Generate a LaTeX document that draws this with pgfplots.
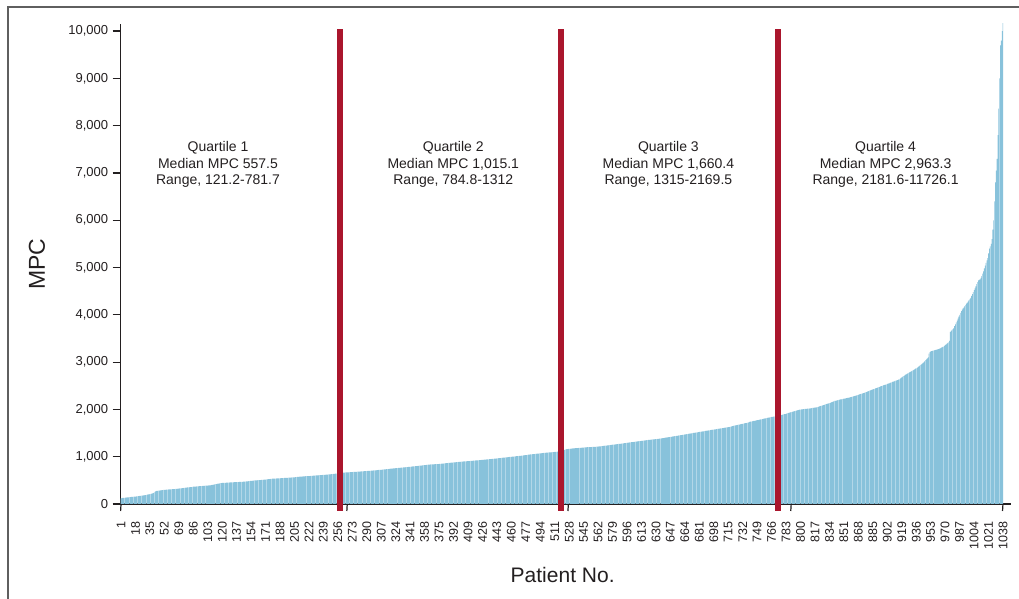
\documentclass[border=0pt]{standalone}
\usepackage{pgfplots}
\pgfplotsset{compat=1.18}
\usepackage{pgfplotstable}
\usepackage{fontspec}
\setmainfont{Liberation Sans}
\definecolor{barblue}{RGB}{136,194,219}
\definecolor{qred}{RGB}{170,22,45}
\definecolor{txt}{RGB}{35,31,32}
\definecolor{framec}{RGB}{95,95,95}

\pgfplotstableread[row sep=\\]{
mpc\\
121\\124\\127\\129\\131\\133\\136\\138\\140\\142\\
145\\147\\149\\151\\153\\155\\156\\158\\159\\161\\
164\\167\\170\\173\\176\\179\\182\\185\\187\\190\\
194\\198\\202\\206\\210\\214\\219\\224\\232\\248\\
262\\272\\276\\279\\282\\285\\287\\289\\292\\295\\
297\\299\\301\\302\\304\\305\\307\\308\\310\\311\\
312\\314\\315\\317\\318\\320\\322\\324\\326\\328\\
330\\332\\334\\337\\339\\342\\344\\347\\349\\351\\
353\\355\\357\\359\\362\\365\\366\\368\\370\\371\\
373\\374\\376\\377\\379\\380\\382\\383\\385\\386\\
388\\389\\391\\392\\394\\396\\399\\402\\406\\410\\
414\\418\\422\\426\\430\\433\\436\\439\\442\\445\\
446\\447\\448\\449\\450\\452\\453\\454\\455\\456\\
457\\458\\459\\460\\461\\462\\463\\464\\465\\466\\
467\\468\\469\\470\\471\\473\\475\\477\\479\\481\\
483\\485\\487\\489\\491\\493\\495\\497\\499\\501\\
502\\503\\504\\505\\506\\508\\510\\512\\514\\516\\
518\\520\\522\\524\\526\\528\\530\\532\\534\\536\\
537\\538\\539\\540\\541\\542\\543\\544\\545\\546\\
548\\549\\550\\551\\552\\554\\555\\556\\557\\559\\
560\\561\\562\\563\\565\\567\\569\\571\\573\\575\\
577\\578\\580\\581\\583\\584\\585\\587\\588\\589\\
590\\591\\592\\594\\595\\597\\598\\600\\601\\603\\
604\\606\\607\\608\\609\\611\\612\\614\\615\\617\\
618\\619\\620\\622\\624\\626\\628\\630\\632\\634\\
636\\638\\640\\642\\644\\646\\648\\650\\652\\655\\
662\\664\\665\\666\\667\\668\\669\\670\\671\\672\\
673\\674\\675\\677\\678\\679\\680\\681\\683\\684\\
685\\687\\688\\689\\690\\692\\693\\694\\696\\697\\
698\\700\\701\\703\\704\\706\\707\\709\\710\\712\\
713\\715\\717\\719\\720\\722\\724\\726\\728\\730\\
732\\734\\736\\738\\740\\742\\744\\746\\748\\750\\
752\\754\\755\\757\\759\\761\\762\\764\\766\\768\\
769\\771\\773\\775\\776\\778\\780\\781\\783\\785\\
787\\789\\791\\793\\795\\797\\799\\801\\803\\806\\
808\\810\\812\\814\\816\\818\\820\\822\\824\\827\\
829\\831\\833\\835\\836\\837\\838\\839\\840\\841\\
842\\843\\844\\845\\846\\848\\850\\852\\854\\856\\
858\\860\\862\\864\\866\\867\\869\\871\\873\\875\\
877\\879\\880\\882\\884\\886\\887\\889\\891\\893\\
894\\896\\897\\899\\900\\902\\903\\905\\906\\908\\
909\\911\\912\\914\\915\\917\\919\\920\\922\\924\\
925\\927\\929\\930\\932\\934\\935\\937\\939\\940\\
942\\944\\945\\947\\949\\950\\952\\954\\956\\958\\
960\\962\\964\\966\\968\\970\\972\\974\\976\\978\\
980\\982\\984\\986\\988\\990\\992\\994\\996\\998\\
1000\\1002\\1004\\1006\\1008\\1010\\1012\\1014\\1016\\1018\\
1020\\1022\\1024\\1026\\1028\\1031\\1033\\1036\\1039\\1042\\
1045\\1047\\1049\\1051\\1053\\1055\\1057\\1059\\1061\\1063\\
1065\\1067\\1069\\1071\\1073\\1075\\1077\\1079\\1081\\1083\\
1085\\1086\\1088\\1089\\1091\\1092\\1094\\1095\\1097\\1098\\
1100\\1102\\1104\\1106\\1108\\1110\\1113\\1116\\1120\\1125\\
1132\\1140\\1148\\1155\\1160\\1162\\1164\\1166\\1168\\1170\\
1172\\1174\\1176\\1177\\1179\\1180\\1182\\1183\\1185\\1186\\
1188\\1189\\1191\\1192\\1194\\1195\\1197\\1198\\1200\\1201\\
1202\\1203\\1204\\1205\\1206\\1207\\1208\\1209\\1210\\1211\\
1213\\1215\\1217\\1219\\1221\\1224\\1226\\1228\\1230\\1232\\
1234\\1236\\1239\\1241\\1243\\1246\\1248\\1250\\1253\\1255\\
1257\\1259\\1262\\1264\\1267\\1269\\1271\\1274\\1276\\1279\\
1281\\1284\\1286\\1289\\1291\\1294\\1297\\1300\\1303\\1305\\
1307\\1309\\1311\\1313\\1316\\1318\\1320\\1323\\1325\\1327\\
1330\\1332\\1335\\1337\\1340\\1342\\1345\\1347\\1350\\1352\\
1354\\1356\\1358\\1360\\1362\\1364\\1366\\1368\\1370\\1372\\
1374\\1376\\1378\\1380\\1383\\1386\\1389\\1392\\1395\\1398\\
1401\\1404\\1407\\1410\\1413\\1416\\1419\\1422\\1425\\1428\\
1431\\1434\\1437\\1440\\1443\\1446\\1449\\1452\\1455\\1458\\
1461\\1464\\1467\\1470\\1473\\1476\\1479\\1482\\1486\\1490\\
1493\\1496\\1499\\1502\\1505\\1508\\1511\\1514\\1517\\1520\\
1523\\1526\\1529\\1532\\1535\\1538\\1541\\1544\\1547\\1550\\
1553\\1556\\1559\\1562\\1565\\1568\\1571\\1574\\1577\\1580\\
1583\\1586\\1589\\1592\\1595\\1598\\1601\\1604\\1607\\1610\\
1613\\1616\\1619\\1622\\1625\\1628\\1631\\1635\\1640\\1645\\
1650\\1655\\1660\\1664\\1668\\1672\\1676\\1680\\1684\\1688\\
1692\\1696\\1700\\1704\\1708\\1712\\1717\\1722\\1728\\1735\\
1740\\1744\\1748\\1752\\1756\\1760\\1764\\1768\\1772\\1776\\
1780\\1784\\1788\\1792\\1796\\1800\\1804\\1808\\1812\\1816\\
1820\\1824\\1828\\1832\\1836\\1840\\1843\\1846\\1849\\1852\\
1856\\1860\\1864\\1868\\1872\\1876\\1880\\1884\\1888\\1893\\
1898\\1903\\1908\\1914\\1920\\1926\\1932\\1938\\1944\\1950\\
1955\\1960\\1965\\1970\\1975\\1980\\1985\\1990\\1995\\1998\\
2001\\2003\\2005\\2007\\2009\\2011\\2013\\2015\\2017\\2019\\
2021\\2024\\2027\\2030\\2033\\2036\\2039\\2042\\2045\\2050\\
2056\\2062\\2068\\2074\\2080\\2086\\2092\\2098\\2104\\2110\\
2116\\2122\\2128\\2134\\2140\\2148\\2156\\2165\\2172\\2178\\
2183\\2188\\2192\\2197\\2202\\2206\\2210\\2214\\2218\\2222\\
2226\\2230\\2234\\2238\\2242\\2246\\2250\\2255\\2260\\2265\\
2270\\2275\\2280\\2286\\2292\\2298\\2304\\2310\\2316\\2322\\
2328\\2334\\2340\\2346\\2352\\2358\\2365\\2372\\2380\\2388\\
2395\\2402\\2409\\2416\\2423\\2430\\2437\\2444\\2451\\2458\\
2465\\2472\\2479\\2486\\2493\\2500\\2507\\2514\\2520\\2526\\
2532\\2538\\2545\\2552\\2559\\2566\\2573\\2580\\2587\\2594\\
2601\\2608\\2615\\2622\\2629\\2636\\2650\\2665\\2680\\2695\\
2706\\2717\\2728\\2739\\2750\\2761\\2772\\2783\\2794\\2805\\
2816\\2827\\2838\\2849\\2860\\2870\\2880\\2895\\2910\\2925\\
2940\\2955\\2970\\2985\\3000\\3020\\3040\\3060\\3080\\3100\\
3180\\3210\\3225\\3235\\3240\\3245\\3250\\3255\\3260\\3265\\
3270\\3275\\3280\\3290\\3300\\3310\\3320\\3330\\3345\\3360\\
3375\\3390\\3405\\3420\\3450\\3640\\3660\\3680\\3700\\3720\\
3760\\3800\\3840\\3880\\3920\\3960\\4000\\4040\\4080\\4110\\
4135\\4160\\4185\\4210\\4235\\4260\\4285\\4310\\4335\\4360\\
4400\\4440\\4480\\4520\\4560\\4600\\4650\\4690\\4730\\4740\\
4750\\4780\\4820\\4870\\4920\\4980\\5040\\5100\\5150\\5200\\
5300\\5400\\5450\\5500\\5600\\5800\\6000\\6400\\6800\\7050\\
7300\\7800\\8360\\9000\\9700\\9800\\10000\\11726.1\\
}\mpcdata

\begin{document}
\begin{tikzpicture}
\path[use as bounding box] (0,0) rectangle (1019pt,599pt);
\draw[framec, line width=1.6pt] (8pt,0) -- (8pt,592pt) -- (1019pt,592pt);
\begin{axis}[
  at={(120.6pt,95pt)}, anchor=south west,
  scale only axis, width=890pt, height=480pt,
  xmin=0.5, xmax=1047, ymin=0, ymax=10150,
  axis x line*=bottom, axis y line*=left,
  axis line style={line width=1.5pt, draw=txt},
  tick align=outside, major tick length=8pt,
  ytick={0,1000,2000,3000,4000,5000,6000,7000,8000,9000,10000},
  scaled y ticks=false, scaled x ticks=false,
  ytick style={line width=1.2pt, draw=txt},
  xtick={1,18,35,52,69,86,103,120,137,154,171,188,205,222,239,256,273,290,307,324,341,358,375,392,409,426,443,460,477,494,511,528,545,562,579,596,613,630,647,664,681,698,715,732,749,766,783,800,817,834,851,868,885,902,919,936,953,970,987,1004,1021,1038},
  xtick style={draw=none},
  xticklabel shift=6pt,
  /pgf/number format/assume math mode=true,
  yticklabel style={font=\fontsize{13}{13}\selectfont, text=txt, /pgf/number format/1000 sep={,}, xshift=-1pt},
  xticklabel style={font=\fontsize{12.5}{12.5}\selectfont, text=txt, rotate=90, anchor=east, /pgf/number format/1000 sep={}},
  xlabel={Patient No.}, ylabel={MPC},
  every axis x label/.style={at={(axis description cs:0.4967,-0.148)}, anchor=center, font=\fontsize{21}{21}\selectfont, text=txt},
  every axis y label/.style={at={(axis description cs:-0.094,0.5)}, rotate=90, anchor=center, font=\fontsize{23}{23}\selectfont, text=txt},
  clip mode=individual,
]
\addplot[ybar, bar width=0.65, bar shift=0pt, fill=barblue, draw=none] table[x expr=\coordindex+1, y=mpc]{\mpcdata};

\draw[txt, line width=1.2pt] (axis cs:1,0) -- ++(0,-7pt);
\draw[txt, line width=1.2pt] (axis cs:267,0) -- ++(0,-7pt);
\draw[txt, line width=1.2pt] (axis cs:527,0) -- ++(0,-7pt);
\draw[txt, line width=1.2pt] (axis cs:789,0) -- ++(0,-7pt);
\draw[txt, line width=1.2pt] (axis cs:1038,0) -- ++(0,-7pt);

\draw[qred, line width=6pt] (axis cs:258.1,-142) -- (axis cs:258.1,10038);
\draw[qred, line width=6pt] (axis cs:518.3,-142) -- (axis cs:518.3,10038);
\draw[qred, line width=6pt] (axis cs:773.5,-142) -- (axis cs:773.5,10038);

\node[align=center, font=\fontsize{14}{16.5}\selectfont, text=txt] at (axis cs:115,7179) {Quartile 1\\Median MPC 557.5\\Range, 121.2-781.7};
\node[align=center, font=\fontsize{14}{16.5}\selectfont, text=txt] at (axis cs:391.7,7179) {Quartile 2\\Median MPC 1,015.1\\Range, 784.8-1312};
\node[align=center, font=\fontsize{14}{16.5}\selectfont, text=txt] at (axis cs:644.6,7179) {Quartile 3\\Median MPC 1,660.4\\Range, 1315-2169.5};
\node[align=center, font=\fontsize{14}{16.5}\selectfont, text=txt] at (axis cs:900,7179) {Quartile 4\\Median MPC 2,963.3\\Range, 2181.6-11726.1};
\end{axis}
\end{tikzpicture}
\end{document}
